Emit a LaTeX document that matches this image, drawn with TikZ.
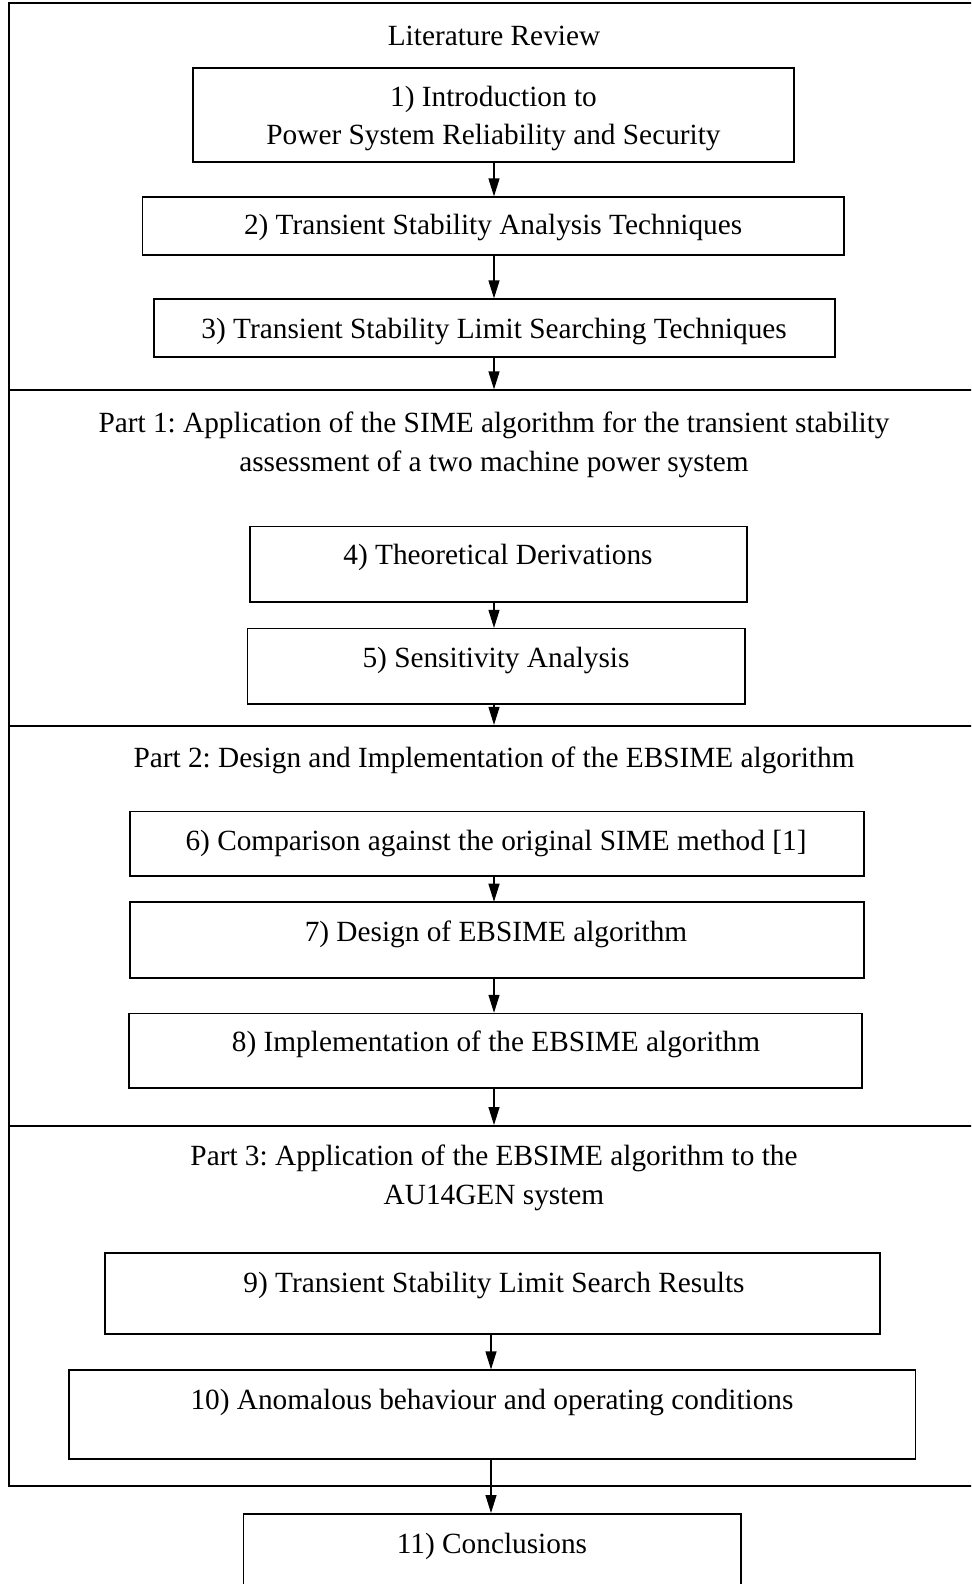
\documentclass[tikz,border=0pt]{standalone}
\usepackage{fontspec}
\setmainfont{Liberation Serif}
\frenchspacing
\usetikzlibrary{arrows.meta}
\begin{document}
\begin{tikzpicture}[x=0.5pt,y=-0.5pt,
  every node/.style={font=\fontsize{14.65pt}{19.2pt}\selectfont},
  frame/.style={draw, line width=1pt},
  box/.style={draw, line width=0.9pt},
  txt/.style={anchor=base, inner sep=0pt},
  arr/.style={line width=0.6pt, -{Triangle[width=5.5pt,length=9pt]}, shorten >=0.3pt}]
\useasboundingbox (0,0) rectangle (971,1584);
\clip (0,0) rectangle (971,1584);

% outer frame and section dividers
\draw[frame] (990,3) -- (9,3) -- (9,1486) -- (990,1486);
\coordinate (d1) at (494,390);
\coordinate (d2) at (494,725.5);
\coordinate (d3) at (494,1125.6);
\draw[frame] (9,390) -- (990,390);
\draw[frame] (9,725.5) -- (990,725.5);
\draw[frame] (9,1125.6) -- (990,1125.6);

% Literature review
\node[txt] (tlr) at (494,46) {Literature Review};
\draw[box] (193,67.7) rectangle (794,161.7);
\coordinate (b1s) at (494,161.7);
\node[txt] (t1a) at (493.5,106) {1) Introduction to};
\node[txt] (t1b) at (493.5,144.4) {Power System Reliability and Security};

\draw[box] (142.5,197) rectangle (843.7,254.6);
\coordinate (b2n) at (494,197);
\coordinate (b2s) at (494,254.6);
\node[txt] (t2) at (493.1,234.3) {2) Transient Stability Analysis Techniques};

\draw[box] (153.6,299) rectangle (834.6,356.7);
\coordinate (b3n) at (494,299);
\coordinate (b3s) at (494,356.7);
\node[txt] (t3) at (494.1,338.4) {3) Transient Stability Limit Searching Techniques};

\draw[arr] (b1s) -- (b2n);
\draw[arr] (b2s) -- (b3n);
\draw[arr] (b3s) -- (d1);

% Part 1
\node[txt] (tp1a) at (494,432.3) {Part 1: Application of the SIME algorithm for the transient stability};
\node[txt] (tp1b) at (494,471.8) {assessment of a two machine power system};

\draw[box] (249.6,526.4) rectangle (746.7,602.2);
\coordinate (b4s) at (494,602.2);
\node[txt] (t4) at (498,564.7) {4) Theoretical Derivations};

\draw[box] (247.5,628.5) rectangle (744.7,704.2);
\coordinate (b5n) at (494,628.5);
\coordinate (b5s) at (494,704.2);
\node[txt] (t5) at (496,667.8) {5) Sensitivity Analysis};

\draw[arr] (b4s) -- (b5n);
\draw[arr] (b5s) -- (d2);

% Part 2
\node[txt] (tp2) at (494,767.8) {Part 2: Design and Implementation of the EBSIME algorithm};

\draw[box] (130.3,811.4) rectangle (863.9,876);
\coordinate (b6s) at (494,876);
\node[txt] (t6) at (496,850.6) {6) Comparison against the original SIME method [1]};

\draw[box] (130.3,902.3) rectangle (863.9,978);
\coordinate (b7n) at (494,902.3);
\coordinate (b7s) at (494,978);
\node[txt] (t7) at (496,941.6) {7) Design of EBSIME algorithm};

\draw[box] (129.3,1013.4) rectangle (861.9,1088.2);
\coordinate (b8n) at (494,1013.4);
\coordinate (b8s) at (494,1088.2);
\node[txt] (t8) at (496,1051.7) {8) Implementation of the EBSIME algorithm};

\draw[arr] (b6s) -- (b7n);
\draw[arr] (b7s) -- (b8n);
\draw[arr] (b8s) -- (d3);

% Part 3
\node[txt] (tp3a) at (494,1165.4) {Part 3: Application of the EBSIME algorithm to the};
\node[txt] (tp3b) at (494,1204.3) {AU14GEN system};

\draw[box] (105,1252.9) rectangle (880,1333.7);
\coordinate (b9s) at (491,1333.7);
\node[txt] (t9) at (494,1292) {9) Transient Stability Limit Search Results};

\draw[box] (68.7,1370) rectangle (915.4,1459);
\coordinate (b10n) at (491,1370);
\coordinate (b10s) at (491,1459);
\node[txt] (t10) at (492,1409.4) {10) Anomalous behaviour and operating conditions};

\draw[arr] (b9s) -- (b10n);

% Conclusions
\draw[box] (243.5,1513.6) rectangle (740.6,1620);
\coordinate (b11n) at (491,1513.6);
\node[txt] (t11) at (492,1553) {11) Conclusions};

\draw[arr] (b10s) -- (b11n);
\end{tikzpicture}
\end{document}
